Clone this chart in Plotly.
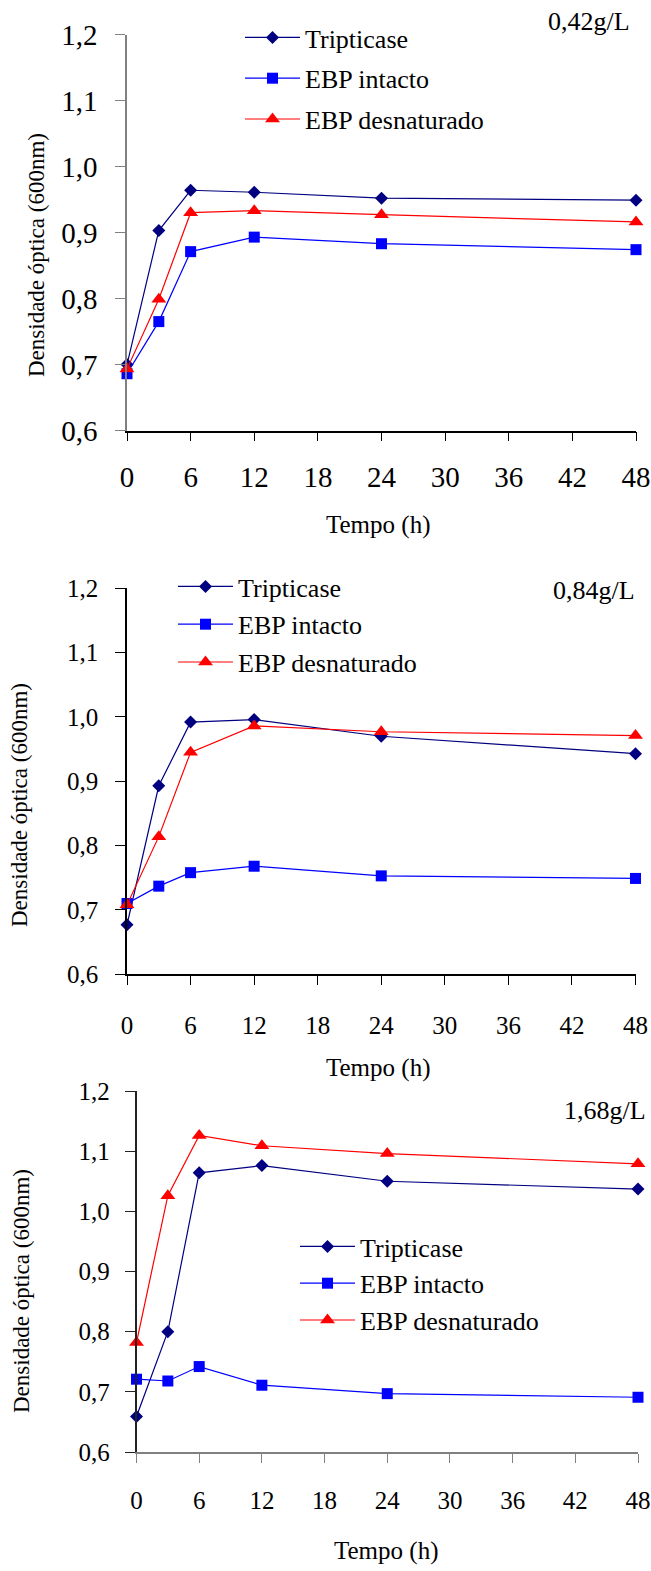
import plotly.graph_objects as go

# Sampling times (h)
tempo = [0, 3, 6, 12, 24, 48]

# Optical density at 600 nm, one list per medium and concentration
trip_042 = [0.700, 0.903, 0.964, 0.961, 0.952, 0.949]
intacto_042 = [0.686, 0.765, 0.871, 0.893, 0.883, 0.874]
desnat_042 = [0.693, 0.799, 0.930, 0.933, 0.927, 0.916]

trip_084 = [0.677, 0.893, 0.992, 0.996, 0.970, 0.943]
intacto_084 = [0.710, 0.737, 0.758, 0.768, 0.753, 0.749]
desnat_084 = [0.708, 0.814, 0.945, 0.986, 0.977, 0.971]

trip_168 = [0.659, 0.800, 1.064, 1.076, 1.050, 1.037]
intacto_168 = [0.721, 0.718, 0.742, 0.711, 0.697, 0.691]
desnat_168 = [0.782, 1.026, 1.126, 1.109, 1.096, 1.079]

series_names = ["Tripticase", "EBP intacto", "EBP desnaturado"]
concentrations = ["0,42g/L", "0,84g/L", "1,68g/L"]
panels = [
    [trip_042, intacto_042, desnat_042],
    [trip_084, intacto_084, desnat_084],
    [trip_168, intacto_168, desnat_168],
]

W, H = 651, 1571
FONT = "Liberation Serif"

styles = [
    dict(color="#000080", symbol="diamond", size=10),
    dict(color="#0000FF", symbol="square", size=11),
    dict(color="#FF0000", symbol="triangle-up", size=13),
]


def px_x(v):
    return v / W


def px_y(v):
    return 1 - v / H


# plot-area boxes in pixels: left, right, top, bottom
boxes = [
    (127, 636, 34.5, 430.5),
    (127, 635.5, 588.3, 974.3),
    (136.5, 638, 1091, 1452),
]
tick_sizes = [29, 25, 25]
x_standoff = [11, 19, 16]
y_standoff = [12, 12, 10]
yaxis_colors = ["#808080", "#000000", "#222222"]
xaxis_colors = ["#000000", "#000000", "#808080"]

fig = go.Figure()

for p, data in enumerate(panels):
    sfx = "" if p == 0 else str(p + 1)
    leg = "legend" if p == 0 else "legend" + str(p + 1)
    for i, (name, vals) in enumerate(zip(series_names, data)):
        st = styles[i]
        fig.add_trace(go.Scatter(
            x=tempo, y=vals, name=name, mode="lines+markers",
            xaxis="x" + sfx, yaxis="y" + sfx, legend=leg,
            legendgroup=f"g{p}{i}",
            line=dict(color=st["color"], width=1.2),
            marker=dict(color=st["color"], symbol=st["symbol"], size=st["size"],
                        line=dict(width=0)),
            cliponaxis=False,
        ))

layout = dict(
    template="none",
    width=W, height=H,
    margin=dict(l=0, r=0, t=0, b=0, autoexpand=False),
    paper_bgcolor="white", plot_bgcolor="white",
    separators=",.",
    font=dict(family=FONT, color="black"),
    showlegend=True,
)

# legend: left px, top px, font size, gap between entries
legend_pos = [(240, 14, 26, 4), (173, 563, 26, 1), (295, 1223, 26, 0)]
for p in range(3):
    l, r, t, b = boxes[p]
    sfx = "" if p == 0 else str(p + 1)
    ts = tick_sizes[p]
    layout["xaxis" + sfx] = dict(
        domain=[px_x(l), px_x(r)], anchor="y" + sfx, range=[0, 48],
        tickmode="linear", tick0=0, dtick=6, ticks="outside", ticklen=9,
        tickwidth=1.3, tickcolor=xaxis_colors[p], showline=True,
        linecolor=xaxis_colors[p], linewidth=1.5, showgrid=False, zeroline=False,
        tickfont=dict(size=ts, family=FONT, color="black"),
        ticklabelstandoff=x_standoff[p], ticklabeloverflow="allow",
        automargin=False,
    )
    layout["yaxis" + sfx] = dict(
        domain=[px_y(b), px_y(t)], anchor="x" + sfx, range=[0.6, 1.2],
        tickmode="linear", tick0=0.6, dtick=0.1, tickformat=".1f",
        ticks="outside", ticklen=10, tickwidth=1.3, tickcolor=yaxis_colors[p],
        showline=True, linecolor=yaxis_colors[p], linewidth=1.5,
        showgrid=False, zeroline=False,
        tickfont=dict(size=ts, family=FONT, color="black"),
        ticklabelstandoff=y_standoff[p], ticklabeloverflow="allow",
        automargin=False,
    )
    lx, ly, lfs, gap = legend_pos[p]
    key = "legend" if p == 0 else "legend" + str(p + 1)
    layout[key] = dict(
        x=px_x(lx), y=px_y(ly), xanchor="left", yanchor="top",
        xref="paper", yref="paper", bgcolor="rgba(0,0,0,0)",
        font=dict(size=lfs, family=FONT, color="black"), itemwidth=55,
        traceorder="grouped", tracegroupgap=gap, itemclick=False,
    )


def label(text, cx, cy, size, angle=0):
    return dict(text=text, x=px_x(cx), y=px_y(cy), xref="paper", yref="paper",
                xanchor="center", yanchor="middle", showarrow=False,
                textangle=angle, font=dict(size=size, family=FONT))


annotations = []
# concentration labels
conc_pos = [(589, 22), (594, 590), (605, 1110)]
for text, (cx, cy) in zip(concentrations, conc_pos):
    annotations.append(label(text, cx, cy, 26))
# axis titles
xt_pos = [(378, 525), (378, 1068), (386, 1551)]
yt_pos = [(36, 255), (19, 805), (21, 1291)]
for (tx, ty) in xt_pos:
    annotations.append(label("Tempo (h)", tx, ty, 25))
for (tx, ty) in yt_pos:
    annotations.append(label("Densidade óptica (600nm)", tx, ty, 23, -90))
layout["annotations"] = annotations

fig.update_layout(**layout)
fig.write_html("out.html")
